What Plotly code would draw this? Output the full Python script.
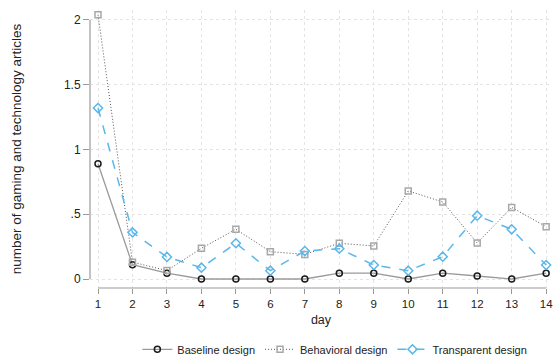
import plotly.graph_objects as go

days = list(range(1, 15))
baseline = [0.89, 0.11, 0.045, 0, 0, 0, 0, 0.045, 0.045, 0, 0.045, 0.023, 0, 0.045]
behavioral = [2.04, 0.13, 0.065, 0.237, 0.384, 0.211, 0.19, 0.276, 0.255, 0.68, 0.595, 0.278, 0.553, 0.404]
transparent = [1.32, 0.36, 0.17, 0.087, 0.276, 0.064, 0.216, 0.234, 0.108, 0.064, 0.172, 0.489, 0.384, 0.108]
ytick_vals = [0, 0.5, 1, 1.5, 2]
ytick_text = ["0", ".5", "1", "1.5", "2"]

fig = go.Figure()
fig.add_trace(go.Scatter(
    x=days, y=baseline, mode="lines+markers", name="Baseline design",
    line=dict(color="#9a9a9a", width=1.3),
    marker=dict(symbol="circle-open", size=6, color="#1a1a1a", line=dict(width=1.5)),
))
fig.add_trace(go.Scatter(
    x=days, y=behavioral, mode="lines+markers", name="Behavioral design",
    line=dict(color="#555555", width=1, dash="1px,2px"),
    marker=dict(symbol="square-open", size=6, color="#a8a8a8", line=dict(width=1.5)),
))
fig.add_trace(go.Scatter(
    x=days, y=transparent, mode="lines+markers", name="Transparent design",
    line=dict(color="#5ab7ec", width=1.5, dash="dash"),
    marker=dict(symbol="diamond-open", size=7, color="#5ab7ec", line=dict(width=1.5)),
))

font = "Liberation Sans, Arial, sans-serif"
fig.update_layout(
    width=554, height=360,
    margin=dict(l=90, r=2, t=10, b=72),
    plot_bgcolor="white", paper_bgcolor="white",
    font=dict(family=font, size=12, color="#222"),
    showlegend=True,
    legend=dict(orientation="h", x=0.53, xanchor="center",
                yref="container", y=0.07, yanchor="top",
                font=dict(size=11), tracegroupgap=0),
    xaxis=dict(
        range=[0.768, 14.17], tickvals=days, showline=False, zeroline=False,
        showgrid=True, gridcolor="#e4e4e4", griddash="dot", gridwidth=1,
        ticks="outside", ticklen=5, tickcolor="#999", tickfont=dict(size=11.5),
        title=dict(text="day", font=dict(size=12.5), standoff=6),
        automargin=False,
    ),
    yaxis=dict(
        range=[-0.0695, 2.077], tickvals=ytick_vals, ticktext=ytick_text,
        showline=False, zeroline=False,
        showgrid=True, gridcolor="#e4e4e4", griddash="dot", gridwidth=1,
        ticks="outside", ticklen=6, tickcolor="#999", tickfont=dict(size=12),
        title=dict(text="number of gaming and technology articles", font=dict(size=13.5), standoff=39),
        automargin=False,
    ),
    shapes=[
        dict(type="line", xref="x", yref="paper", x0=1, x1=14, y0=0, y1=0,
             line=dict(color="#999", width=1.2)),
        dict(type="line", xref="paper", yref="y", x0=0, x1=0, y0=0, y1=2,
             line=dict(color="#999", width=1.2)),
    ],
)

fig.write_html("out.html", config={"displayModeBar": False},
               post_script="document.body.style.margin='0';")
